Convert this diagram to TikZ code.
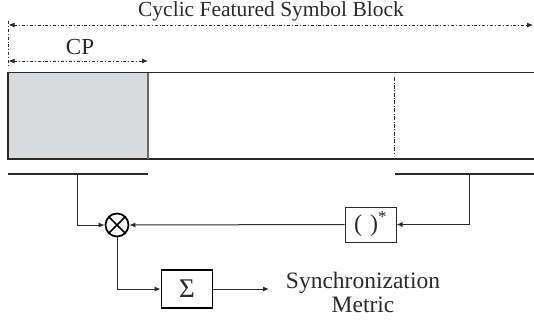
\documentclass[tikz,border=0pt]{standalone}
\usepackage{fontspec}
\setmainfont{Liberation Serif}
\usetikzlibrary{arrows.meta}
\definecolor{ink}{HTML}{2A2A2A}
\definecolor{cpgray}{HTML}{D9DADB}
\tikzset{
  conn/.style={draw=ink, line width=1pt, -{Latex[length=6pt,width=5pt]}},
  dim/.style={draw=ink, line width=0.8pt, dash pattern=on 3pt off 2pt on 0.8pt off 2pt},
  dimarrow/.style={dim, {Latex[length=6pt,width=5pt]}-{Latex[length=6pt,width=5pt]}},
  bar/.style={draw=ink, line width=1.9pt},
  lbl/.style={text=ink, inner sep=0pt, align=center},
  thinbox/.style={draw=ink, line width=1pt, minimum width=51pt, minimum height=35pt, inner sep=0pt},
  thickbox/.style={draw=black, line width=1.9pt, minimum width=51pt, minimum height=38pt, inner sep=0pt}
}
\begin{document}
\begin{tikzpicture}[x=1pt,y=-1pt]
\useasboundingbox (0,0) rectangle (534,321);
% title and dimension lines
\node[lbl, font=\fontsize{21.5}{24}\selectfont, text height=14pt, text depth=4.5pt, anchor=base] (title) at (271,16.5) {Cyclic Featured Symbol Block};
\coordinate (tl) at (8.5,25);
\coordinate (tr) at (533,25);
\coordinate (tickt) at (8.5,21);
\coordinate (tickb) at (8.5,66);
\draw[dim] (tickt) -- (tickb);
\draw[dimarrow] (tl) -- (tr);
\node[lbl, font=\fontsize{23}{26}\selectfont] (cp) at (80,47) {CP};
\coordinate (cpl) at (8.5,61);
\coordinate (cpr) at (148,61);
\draw[dimarrow] (cpl) -- (cpr);
% symbol block
\fill[cpgray] (8,72.5) rectangle (148,159);
\draw[ink, line width=1.2pt] (534,72.5) -- (8,72.5) -- (8,159) -- (534,159);
\draw[ink!70, line width=1.2pt] (148,72.5) -- (148,159);
\coordinate (dvt) at (394.5,77);
\coordinate (dvb) at (394.5,154.5);
\draw[dim, dash pattern=on 4pt off 1.5pt on 0.8pt off 1.5pt] (dvt) -- (dvb);
% bars
\coordinate (lb1) at (8,174);
\coordinate (lb2) at (148,174);
\coordinate (lbt) at (77.5,174);
\coordinate (rb1) at (394.5,174);
\coordinate (rb2) at (534,174);
\coordinate (rbt) at (469,174);
\draw[bar] (lb1) -- (lb2);
\draw[bar] (rb1) -- (rb2);
% blocks
\node[circle, draw=black, line width=1.7pt, minimum size=23pt, inner sep=0pt] (mul) at (117,225) {};
\draw[black, line width=1.7pt] (mul.north west) -- (mul.south east);
\draw[black, line width=1.7pt] (mul.north east) -- (mul.south west);
\node[thinbox, font=\fontsize{24}{26}\selectfont, text=ink] (conj) at (370.5,224.5) {(\,\,)\textsuperscript{*}};
\node[thickbox, font=\fontsize{27}{28}\selectfont, text=ink] (sum) at (187,289) {Σ};
\coordinate (out) at (269,289);
\node[lbl, font=\fontsize{23.5}{23.5}\selectfont] (metric) at (363,292.5) {Synchronization\\Metric};
% connectors
\draw[conn] (lbt) |- (mul.west);
\draw[conn] (rbt) |- (conj.east);
\draw[conn] (conj.west) -- (mul.east);
\draw[conn] (mul.south) |- (sum.west);
\draw[conn] (sum.east) -- (out);
\end{tikzpicture}
\end{document}
